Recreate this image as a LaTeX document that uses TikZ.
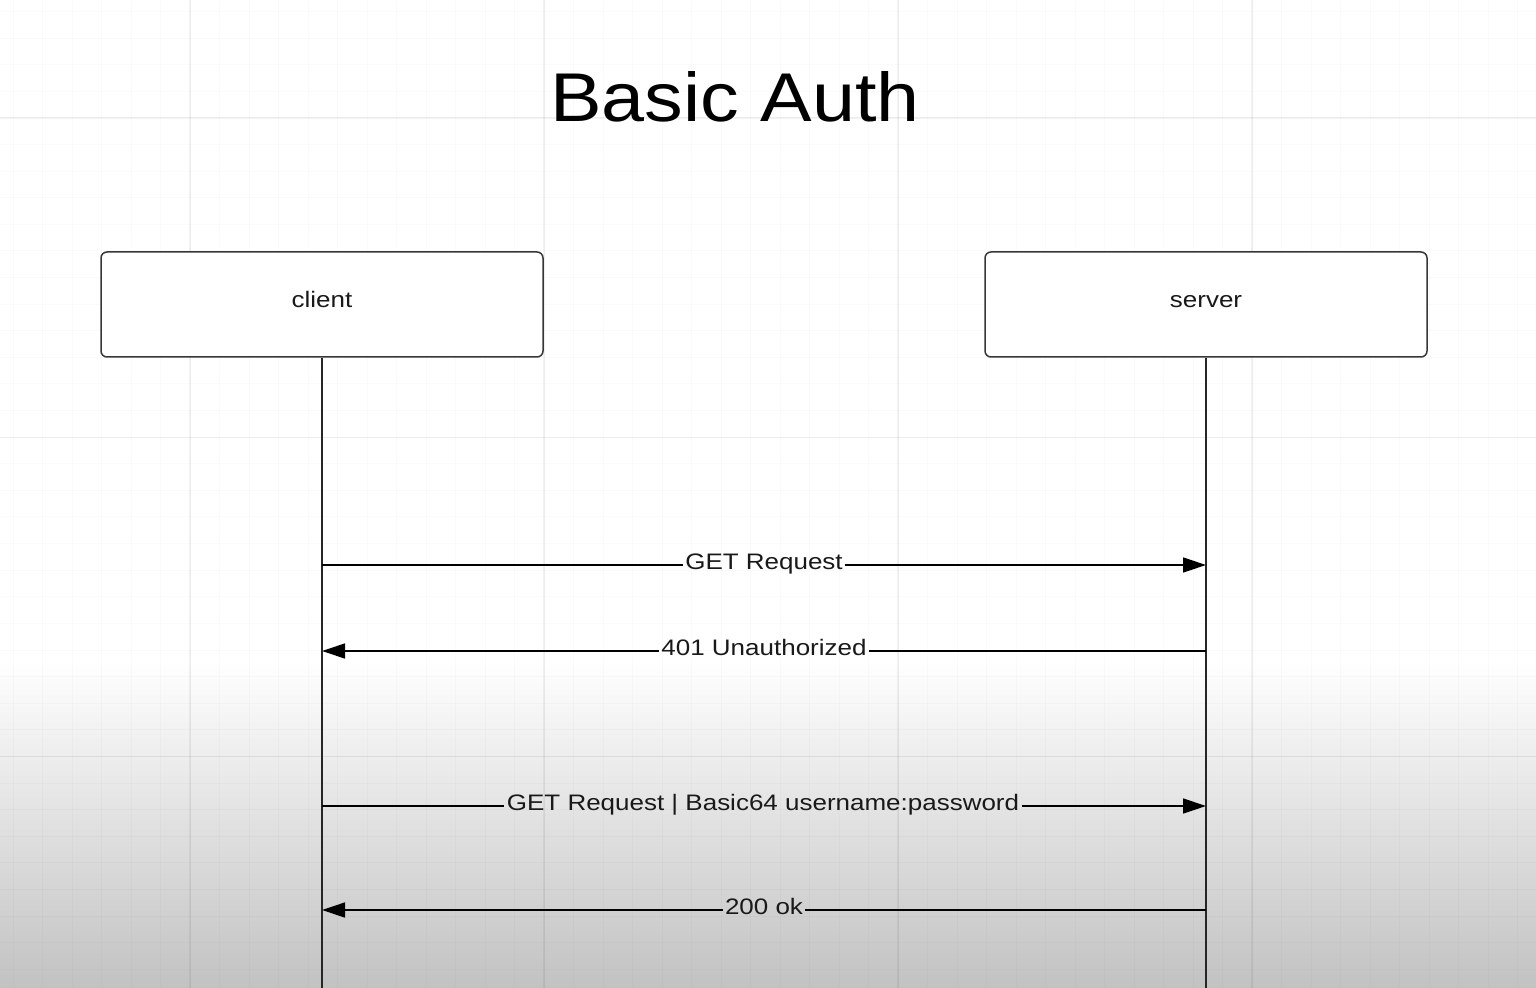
\documentclass[tikz,border=0pt]{standalone}
\usepackage{fontspec}
\setmainfont{Liberation Sans}
\newfontfamily\lblfont[FakeStretch=1.16]{Liberation Sans}
\newfontfamily\ttlfont[FakeStretch=1.12]{Liberation Sans}
\usetikzlibrary{arrows.meta}
\definecolor{botgray}{RGB}{194,194,194}
\definecolor{boxline}{RGB}{55,55,55}
\definecolor{txt}{RGB}{25,25,25}
\begin{document}
\begin{tikzpicture}[x=0.5pt,y=-0.5pt,
  actor/.style={draw=boxline, line width=0.75pt, fill=white, rounded corners=3pt,
    minimum width=221pt, minimum height=52.5pt, inner sep=0pt, text=txt,
    text height=8.5pt, text depth=5pt, font=\lblfont\fontsize{11.2}{13}\selectfont},
  msg/.style={font=\lblfont\fontsize{11.2}{13}\selectfont, text=txt, inner sep=1pt, anchor=base},
  lifeline/.style={draw=black!85, line width=0.75pt},
  msgline/.style={draw=black, line width=0.65pt},
  tip/.style={-{Triangle[length=11.5pt,width=7.5pt]}},
  minorgrid/.style={draw=black, opacity=0.018, line width=0.5pt},
  majorgrid/.style={draw=black, opacity=0.05, line width=0.6pt}]
% background
\useasboundingbox (0,0) rectangle (1536,988);
\fill[white] (0,0) rectangle (1536,988);
\shade[top color=white, bottom color=botgray] (0,660) rectangle (1536,988);
% grid
\foreach \k in {-6,...,45} {\draw[minorgrid] ({190+29.5*\k},0) -- ({190+29.5*\k},988);}
\foreach \k in {-4,...,32} {\draw[minorgrid] (0,{118+26.6*\k}) -- (1536,{118+26.6*\k});}
\foreach \k in {0,12,24,36} {\draw[majorgrid] ({190+29.5*\k},0) -- ({190+29.5*\k},988);}
\foreach \k in {0,12,24} {\draw[majorgrid] (0,{118+26.6*\k}) -- (1536,{118+26.6*\k});}
% title
\node[font=\ttlfont\fontsize{34.5}{40}\selectfont, anchor=base, inner sep=0pt] (title) at (735,122) {Basic Auth};
% actors
\node[actor] (client) at (322,304.5) {client};
\node[actor] (server) at (1206,304.5) {server};
\coordinate (clientend) at (322,988);
\coordinate (serverend) at (1206,988);
\draw[lifeline] (client.south) -- (clientend);
\draw[lifeline] (server.south) -- (serverend);
% message coordinates
\coordinate (c1) at (322,565);  \coordinate (s1) at (1206,565);
\coordinate (c2) at (322,651);  \coordinate (s2) at (1206,651);
\coordinate (c3) at (322,806);  \coordinate (s3) at (1206,806);
\coordinate (c4) at (322,910);  \coordinate (s4) at (1206,910);
% labels
\node[msg] (m1) at (764,569.5) {GET Request};
\node[msg] (m2) at (764,655.5) {401 Unauthorized};
\node[msg] (m3) at (763,810.5) {GET Request | Basic64 username:password};
\node[msg] (m4) at (764,914.5) {200 ok};
% messages
\draw[msgline] (c1) -- (c1 -| m1.west);
\draw[msgline, tip] (c1 -| m1.east) -- (s1);
\draw[msgline] (s2) -- (s2 -| m2.east);
\draw[msgline, tip] (s2 -| m2.west) -- (c2);
\draw[msgline] (c3) -- (c3 -| m3.west);
\draw[msgline, tip] (c3 -| m3.east) -- (s3);
\draw[msgline] (s4) -- (s4 -| m4.east);
\draw[msgline, tip] (s4 -| m4.west) -- (c4);
\end{tikzpicture}
\end{document}
